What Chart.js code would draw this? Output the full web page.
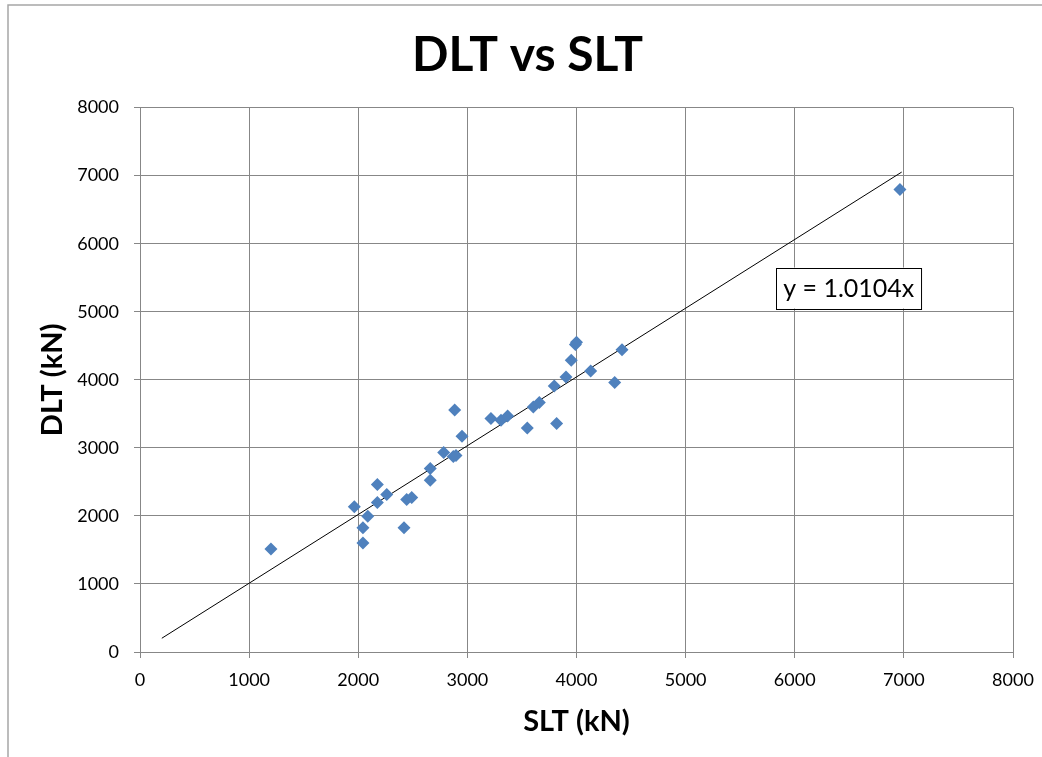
<!DOCTYPE html>
<html>
<head>
<meta charset="utf-8">
<script src="https://cdn.jsdelivr.net/npm/chart.js@4.4.0/dist/chart.umd.min.js"></script>
<style>
html,body{margin:0;padding:0;background:#fff;}
#wrap{width:1042px;height:757px;position:relative;}
</style>
</head>
<body>
<div id="wrap"><canvas id="c" width="1042" height="757"></canvas></div>
<script>
// Data
const slt = [1200, 1964, 2043, 2043, 2087, 2175, 2175, 2261, 2419, 2444, 2490, 2660, 2660, 2783, 2871, 2896, 2884, 2951, 3216, 3308, 3369, 3549, 3604, 3659, 3796, 3818, 3904, 3952, 3990, 4000, 4130, 4350, 4417, 6964];
const dlt = [1512, 2133, 1825, 1600, 1996, 2462, 2197, 2315, 1825, 2241, 2271, 2697, 2525, 2931, 2873, 2887, 3557, 3171, 3430, 3406, 3469, 3293, 3601, 3665, 3909, 3357, 4041, 4286, 4520, 4550, 4129, 3959, 4443, 6796];
const trendSlope = 1.0104;
const trendRange = [200, 6980];
const xTicks = [0, 1000, 2000, 3000, 4000, 5000, 6000, 7000, 8000];
const yTicks = [0, 1000, 2000, 3000, 4000, 5000, 6000, 7000, 8000];
const titleText = 'DLT vs SLT';
const xTitle = 'SLT (kN)';
const yTitle = 'DLT (kN)';
const trendLabel = 'y = 1.0104x';

const points = slt.map((x, i) => ({x: x, y: dlt[i]}));
const trendPts = trendRange.map(x => ({x: x, y: trendSlope * x}));

const FONT = 'Lato, "Open Sans", sans-serif';
const GRID = '#878787';

const frame = {
  id: 'frame',
  beforeDraw(chart) {
    const ctx = chart.ctx;
    ctx.save();
    ctx.fillStyle = '#fff';
    ctx.fillRect(0, 0, chart.width, chart.height);
    ctx.strokeStyle = '#a6a6a6';
    ctx.lineWidth = 1.5;
    ctx.beginPath();
    ctx.moveTo(8, chart.height);
    ctx.lineTo(8, 5);
    ctx.lineTo(chart.width, 5);
    ctx.stroke();
    ctx.restore();
  },
  afterDraw(chart) {
    const ctx = chart.ctx;
    const xs = chart.scales.x, ys = chart.scales.y;
    const left = xs.getPixelForValue(5830);
    const top = ys.getPixelForValue(5650);
    ctx.save();
    ctx.font = '25px ' + FONT;
    const w = ctx.measureText(trendLabel).width + 14;
    const h = 41;
    ctx.fillStyle = '#fff';
    ctx.fillRect(left, top, w, h);
    ctx.strokeStyle = '#000';
    ctx.lineWidth = 1;
    ctx.strokeRect(Math.round(left) + 0.5, Math.round(top) + 0.5, w, h);
    ctx.fillStyle = '#000';
    ctx.textBaseline = 'middle';
    ctx.textAlign = 'left';
    ctx.fillText(trendLabel, left + 7, top + h / 2 + 1);
    ctx.restore();
  }
};

new Chart(document.getElementById('c'), {
  type: 'scatter',
  data: {
    datasets: [
      {
        label: 'data',
        data: points,
        pointStyle: 'rectRot',
        pointRadius: 6.5,
        pointHoverRadius: 6.5,
        backgroundColor: '#4F81BD',
        borderColor: '#4F81BD',
        borderWidth: 0,
        order: 1
      },
      {
        label: 'trend',
        type: 'line',
        data: trendPts,
        borderColor: '#000',
        borderWidth: 1,
        pointRadius: 0,
        fill: false,
        order: 2
      }
    ]
  },
  options: {
    responsive: false,
    animation: false,
    layout: {padding: {left: 42, right: 29, top: 0, bottom: 0}},
    plugins: {
      legend: {display: false},
      tooltip: {enabled: false},
      title: {
        display: true,
        text: titleText,
        color: '#000',
        font: {family: FONT, size: 48, weight: 'bold'},
        padding: {top: 27, bottom: 23}
      }
    },
    scales: {
      x: {
        type: 'linear',
        min: 0, max: 8000,
        afterBuildTicks(s) { s.ticks = xTicks.map(v => ({value: v})); },
        afterFit(s) { s.height = 105; s.paddingRight = 0; s.paddingLeft = 0; },
        grid: {color: GRID, lineWidth: 1, tickLength: 6, drawTicks: true},
        border: {color: GRID, width: 1},
        ticks: {color: '#000', font: {family: FONT, size: 18}, padding: 11, maxRotation: 0, callback: v => String(v)},
        title: {display: true, text: xTitle, color: '#000', font: {family: FONT, size: 29, weight: 'bold'}, padding: {top: 4, bottom: 18}}
      },
      y: {
        type: 'linear',
        min: 0, max: 8000,
        afterBuildTicks(s) { s.ticks = yTicks.map(v => ({value: v})); },
        afterFit(s) { s.width = 98; },
        grid: {color: GRID, lineWidth: 1, tickLength: 6, drawTicks: true},
        border: {color: GRID, width: 1},
        ticks: {color: '#000', font: {family: FONT, size: 18}, padding: 15, callback: v => String(v)},
        title: {display: true, text: yTitle, color: '#000', font: {family: FONT, size: 29, weight: 'bold'}, padding: {top: -7, bottom: 4}}
      }
    }
  },
  plugins: [frame]
});
</script>
</body>
</html>
